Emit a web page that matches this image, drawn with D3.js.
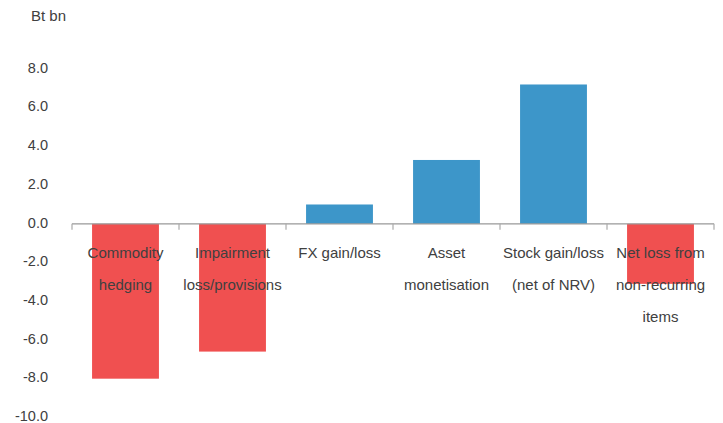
<!DOCTYPE html>
<meta charset="utf-8">
<style>
body { margin: 0; background: #fff; }
text { font-family: "Liberation Sans", Arial, sans-serif; fill: #404040; }
</style>
<svg width="723" height="423"></svg>
<script src="https://d3js.org/d3.v7.min.js"></script>
<script>

// chart data
var categories = [
  ["Commodity", "hedging"],
  ["Impairment", "loss/provisions"],
  ["FX gain/loss"],
  ["Asset", "monetisation"],
  ["Stock gain/loss", "(net of NRV)"],
  ["Net loss from", "non-recurring", "items"]
];
var values = [-8.0, -6.6, 1.0, 3.3, 7.2, -3.1];
var yTicks = [8, 6, 4, 2, 0, -2, -4, -6, -8, -10];
var unitLabel = "Bt bn";

var svg = d3.select("svg");

var x = d3.scaleBand()
    .domain(d3.range(values.length))
    .range([72, 714])
    .paddingInner(0.375)
    .paddingOuter(0.1875);

var y = d3.scaleLinear()
    .domain([-10, 8])
    .range([417.4, 69]);

// y labels, no axis line
svg.append("g")
  .selectAll("text")
  .data(yTicks)
  .join("text")
    .attr("x", 48)
    .attr("y", function(d) { return y(d) - 1.3; })
    .attr("dy", "0.35em")
    .attr("text-anchor", "end")
    .style("font-size", "14.5px")
    .text(function(d) { return d.toFixed(1); });

svg.append("text")
    .attr("x", 31)
    .attr("y", 21)
    .style("font-size", "15px")
    .text(unitLabel);

// bars
svg.append("g")
  .selectAll("rect")
  .data(values)
  .join("rect")
    .attr("x", function(d, i) { return x(i); })
    .attr("width", x.bandwidth())
    .attr("y", function(d) { return y(Math.max(0, d)); })
    .attr("height", function(d) { return Math.abs(y(d) - y(0)); })
    .attr("fill", function(d) { return d < 0 ? "#f05050" : "#3d96c9"; });

// x axis line and ticks at band edges
var step = x.step();
var edges = d3.range(values.length + 1).map(function(i) {
  return x.range()[0] + i * step;
});

svg.append("line")
    .attr("x1", x.range()[0])
    .attr("x2", x.range()[1])
    .attr("y1", y(0))
    .attr("y2", y(0))
    .attr("stroke", "#999")
    .attr("stroke-width", 1.2);

svg.append("g")
  .selectAll("line")
  .data(edges)
  .join("line")
    .attr("x1", function(d) { return d; })
    .attr("x2", function(d) { return d; })
    .attr("y1", y(0))
    .attr("y2", y(0) + 6)
    .attr("stroke", "#aaa")
    .attr("stroke-width", 1.2);

// category labels
var lab = svg.append("g")
  .selectAll("text")
  .data(categories)
  .join("text")
    .attr("text-anchor", "middle")
    .style("font-size", "15px")
    .attr("transform", function(d, i) {
      return "translate(" + (x(i) + x.bandwidth() / 2) + ",258)";
    });

lab.selectAll("tspan")
  .data(function(d) { return d; })
  .join("tspan")
    .attr("x", 0)
    .attr("y", function(d, i) { return i * 32; })
    .text(function(d) { return d; });

</script>
